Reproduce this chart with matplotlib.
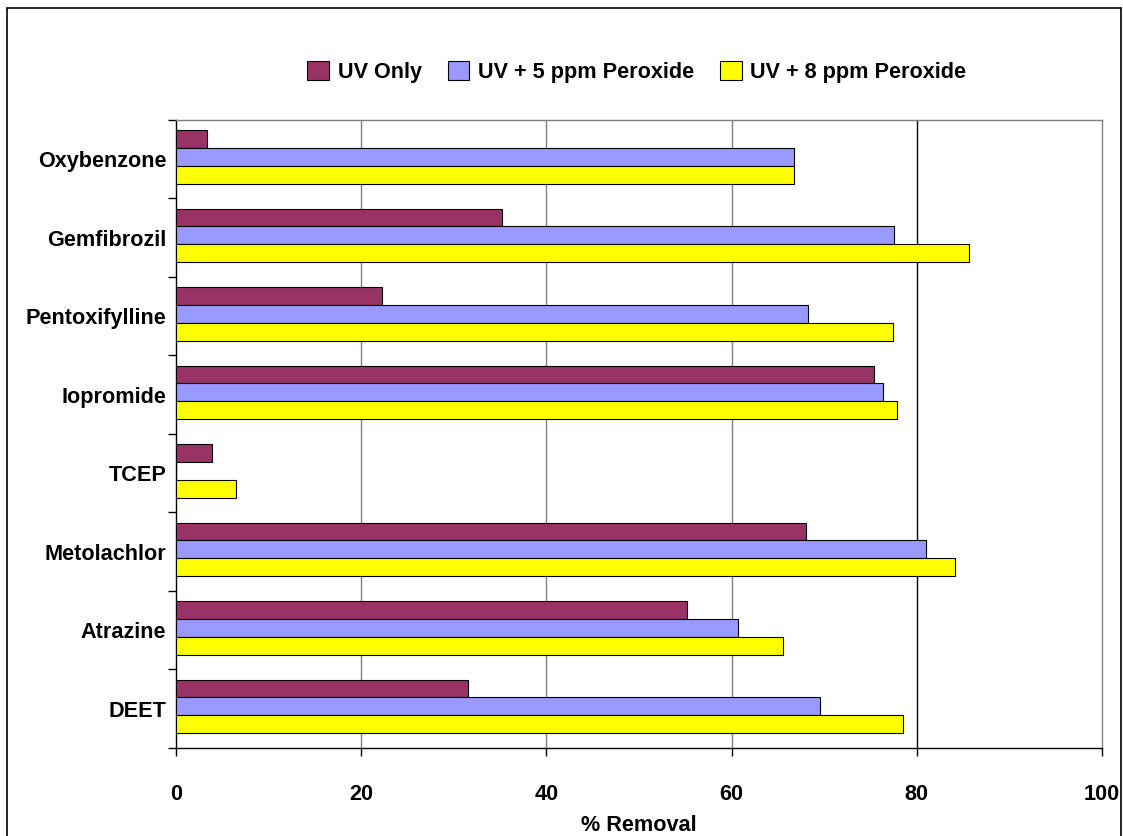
import matplotlib
matplotlib.use('Agg')
from matplotlib import pyplot as plt
from matplotlib.patches import Rectangle
import numpy as np

compounds = ['Oxybenzone', 'Gemfibrozil', 'Pentoxifylline', 'Iopromide',
             'TCEP', 'Metolachlor', 'Atrazine', 'DEET']
uv_only = [3.4, 35.2, 22.3, 75.4, 3.9, 68.0, 55.2, 31.5]
uv_5ppm = [66.7, 77.5, 68.2, 76.4, 0.0, 81.0, 60.7, 69.5]
uv_8ppm = [66.7, 85.6, 77.4, 77.9, 6.5, 84.1, 65.6, 78.5]
series_names = ['UV Only', 'UV + 5 ppm Peroxide', 'UV + 8 ppm Peroxide']
colors = ['#993366', '#9999FF', '#FFFF00']
xticks = [0, 20, 40, 60, 80, 100]

plt.rcParams['font.family'] = ['Liberation Sans', 'DejaVu Sans']
plt.rcParams['font.weight'] = 'bold'
fs = 15.6

fig = plt.figure(figsize=(11.23, 8.36), dpi=100)
ax = fig.add_axes([0.1567, 0.1053, 0.8246, 0.7512])

# Oxybenzone on top
n = len(compounds)
y = np.arange(n)[::-1]
h = 0.228
off = 0.03
for vals, name, c, k in zip([uv_only, uv_5ppm, uv_8ppm], series_names, colors, [1, 0, -1]):
    ax.barh(y + off + k * h, vals, height=h, color=c, edgecolor='black',
            linewidth=0.8, label=name, zorder=3)

ax.set_xlim(0, 100)
ax.set_ylim(-0.5, n - 0.5)
ax.set_xticks(xticks)
ax.set_xticklabels([str(t) for t in xticks], fontsize=fs, fontweight='bold')
ax.set_yticks(y)
ax.set_yticklabels(compounds, fontsize=fs, fontweight='bold')
ax.set_yticks(np.arange(-0.5, n, 1.0), minor=True)
ax.tick_params(axis='y', which='major', length=0, pad=7)
ax.tick_params(axis='y', which='minor', length=6, width=1, direction='out')
ax.tick_params(axis='x', which='major', length=6, width=1, direction='out', pad=20)
ax.set_xlabel('% Removal', fontsize=fs, fontweight='bold', labelpad=7)

for t in xticks[1:-1]:
    ax.axvline(t, color='black' if t == 80 else '#808080', linewidth=1, zorder=1)

ax.spines['top'].set_color('#808080')
ax.spines['right'].set_color('#808080')
ax.spines['left'].set_color('black')
ax.spines['bottom'].set_color('black')
for s in ax.spines.values():
    s.set_linewidth(1)

fig.legend(loc='center', bbox_to_anchor=(0.567, 0.914), ncol=3, frameon=False,
           prop={'size': fs, 'weight': 'bold'}, handlelength=1.0, handleheight=1.0,
           handletextpad=0.4, columnspacing=1.2)

fig.patches.append(Rectangle((7 / 1123, -0.02), 1114 / 1123, 1 - 8 / 836 + 0.02,
                             transform=fig.transFigure, fill=False,
                             edgecolor='black', linewidth=1.2))

fig.savefig('out.png', dpi=100)
